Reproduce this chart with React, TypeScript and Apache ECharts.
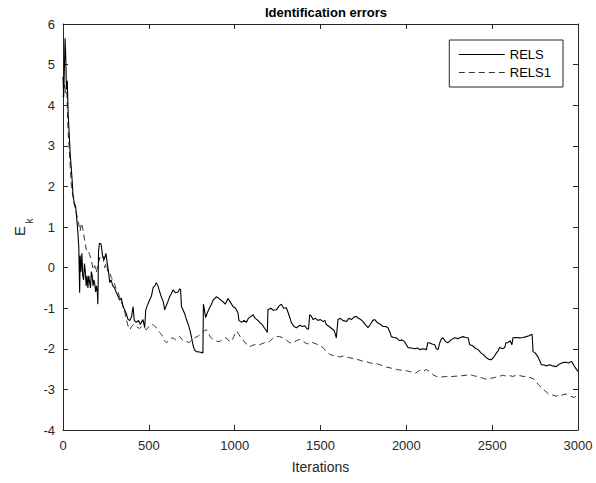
import React, { useEffect, useRef } from "react";
import * as echarts from "echarts";

const xTicks = [0, 500, 1000, 1500, 2000, 2500, 3000];
const yTicks = [-4, -3, -2, -1, 0, 1, 2, 3, 4, 5, 6];
const seriesNames = ["RELS", "RELS1"];

const relsIter = [0,4,8,12,16,20,25,30,36,42,49,54,58,65,74,80,87,92,97,100,105,110,115,120,125,130,135,140,145,150,155,160,165,170,175,180,185,190,195,200,203,207,212,222,230,240,250,258,265,272,280,290,300,311,320,330,340,350,360,370,379,390,400,408,415,427,440,450,466,476,482,490,505,515,525,535,544,553,563,575,585,592,600,610,621,630,641,655,670,680,685,690,700,710,719,730,740,748,757,765,777,795,815,818,822,831,842,854,865,875,893,905,920,932,945,961,975,990,1005,1019,1025,1040,1055,1068,1080,1095,1107,1120,1135,1146,1160,1175,1185,1190,1194,1210,1225,1243,1258,1272,1285,1301,1315,1330,1345,1360,1380,1395,1408,1420,1430,1437,1447,1456,1470,1485,1500,1515,1525,1534,1550,1565,1580,1592,1602,1615,1630,1651,1665,1680,1695,1709,1720,1735,1748,1760,1777,1790,1805,1816,1830,1850,1864,1880,1893,1905,1913,1925,1942,1960,1975,1990,2000,2010,2030,2050,2065,2078,2100,2117,2125,2132,2150,2165,2175,2185,2195,2205,2214,2228,2243,2260,2282,2300,2315,2330,2345,2360,2369,2385,2400,2418,2435,2450,2466,2480,2495,2510,2525,2535,2544,2560,2573,2580,2592,2605,2615,2621,2640,2660,2680,2699,2715,2728,2733,2738,2750,2767,2778,2786,2800,2820,2835,2850,2874,2890,2913,2930,2945,2961,2970,2980,2990,3000];
const relsErr = [4.7,4.2,4.9,5.65,5.2,4.4,4.6,3.8,3.3,2.8,2.4,2.1,1.8,1.6,1.5,1.2,0.85,0.5,-0.62,0.3,-0.1,0.35,-0.2,-0.3,0.1,-0.1,-0.45,-0.2,-0.5,-0.2,-0.35,-0.5,-0.1,-0.2,-0.45,-0.3,-0.4,-0.6,-0.45,-0.6,-0.9,0.4,0.6,0.58,0.3,0.2,0.35,0.1,-0.1,-0.37,-0.3,-0.45,-0.5,-0.62,-0.7,-0.8,-0.75,-0.96,-1.05,-1.15,-1.28,-1.3,-1.2,-0.96,-1.3,-1.35,-1.3,-1.4,-1.28,-1.48,-1.04,-0.95,-0.79,-0.7,-0.49,-0.45,-0.37,-0.45,-0.59,-0.75,-0.85,-1.04,-0.95,-0.85,-0.72,-0.65,-0.55,-0.62,-0.6,-0.52,-0.55,-0.96,-1.05,-1.15,-1.28,-1.4,-1.55,-1.7,-1.9,-2.02,-2.07,-2.08,-2.1,-0.9,-1.0,-1.23,-1.1,-0.99,-0.9,-0.8,-0.72,-0.75,-0.8,-0.84,-0.9,-0.76,-0.85,-0.96,-1.0,-1.11,-1.3,-1.35,-1.3,-1.35,-1.25,-1.2,-1.16,-1.25,-1.3,-1.35,-1.4,-1.5,-1.55,-1.6,-1.04,-1.0,-1.05,-1.04,-0.95,-0.9,-1.0,-0.99,-1.15,-1.35,-1.45,-1.48,-1.42,-1.45,-1.43,-1.5,-1.52,-1.16,-1.2,-1.28,-1.25,-1.3,-1.28,-1.33,-1.3,-1.4,-1.45,-1.5,-1.55,-1.73,-1.28,-1.25,-1.3,-1.33,-1.25,-1.28,-1.22,-1.2,-1.25,-1.28,-1.33,-1.4,-1.48,-1.4,-1.3,-1.28,-1.35,-1.4,-1.45,-1.45,-1.48,-1.6,-1.7,-1.72,-1.73,-1.8,-1.78,-1.83,-1.9,-1.97,-1.98,-2.0,-1.98,-2.02,-2.0,-2.02,-1.85,-1.85,-1.88,-1.9,-2.0,-2.02,-1.85,-1.75,-1.73,-1.82,-1.85,-1.78,-1.73,-1.75,-1.72,-1.7,-1.72,-1.73,-1.9,-1.92,-1.98,-2.02,-2.1,-2.15,-2.22,-2.26,-2.27,-2.2,-2.1,-2.05,-1.97,-2.0,-1.97,-1.85,-1.85,-1.8,-1.9,-1.73,-1.72,-1.73,-1.72,-1.7,-1.68,-1.65,-1.65,-2.07,-2.1,-2.2,-2.3,-2.39,-2.4,-2.42,-2.39,-2.42,-2.44,-2.38,-2.34,-2.33,-2.35,-2.31,-2.36,-2.44,-2.5,-2.56];

const rels1Iter = [0,8,15,20,25,29,35,42,49,58,68,80,90,100,107,117,125,136,145,155,165,175,185,194,205,215,224,233,243,253,262,272,282,291,300,311,320,330,340,350,360,370,380,389,400,410,427,445,460,475,486,500,512,524,535,550,563,575,590,602,615,625,641,655,670,680,695,705,719,735,745,757,770,785,796,810,825,835,845,860,874,890,900,913,925,940,951,965,981,995,1005,1013,1025,1035,1048,1060,1075,1087,1100,1115,1130,1146,1160,1175,1190,1204,1220,1235,1243,1262,1282,1300,1320,1340,1360,1379,1395,1410,1425,1440,1456,1475,1495,1515,1530,1545,1553,1570,1590,1610,1630,1651,1670,1690,1710,1730,1748,1770,1790,1810,1830,1845,1865,1885,1905,1925,1942,1960,1980,2000,2020,2039,2055,2070,2085,2100,2117,2130,2145,2160,2175,2200,2230,2250,2272,2300,2330,2350,2369,2390,2410,2430,2450,2466,2485,2500,2520,2544,2560,2580,2600,2621,2640,2660,2680,2699,2715,2730,2745,2757,2770,2785,2800,2816,2830,2845,2860,2874,2890,2905,2918,2932,2950,2965,2980,2990,3000];
const rels1Err = [4.2,4.5,4.3,4.55,4.0,3.4,3.0,2.5,2.0,1.75,1.5,1.3,1.1,0.9,1.1,0.93,0.7,0.44,0.45,0.32,0.2,-0.05,0.05,-0.12,0.1,0.25,0.2,0.27,0.0,0.12,-0.12,-0.12,-0.25,-0.3,-0.4,-0.54,-0.6,-0.72,-0.85,-0.96,-1.1,-1.3,-1.45,-1.53,-1.45,-1.4,-1.45,-1.5,-1.45,-1.5,-1.53,-1.45,-1.42,-1.4,-1.45,-1.5,-1.6,-1.65,-1.8,-1.85,-1.8,-1.75,-1.73,-1.78,-1.72,-1.7,-1.78,-1.82,-1.82,-1.85,-1.8,-1.77,-1.72,-1.7,-1.65,-1.6,-1.55,-1.53,-1.6,-1.72,-1.77,-1.8,-1.82,-1.82,-1.78,-1.75,-1.73,-1.8,-1.82,-1.7,-1.6,-1.57,-1.65,-1.72,-1.77,-1.85,-1.9,-1.95,-1.92,-1.9,-1.88,-1.9,-1.87,-1.85,-1.85,-1.82,-1.75,-1.72,-1.7,-1.7,-1.73,-1.78,-1.85,-1.85,-1.8,-1.77,-1.8,-1.85,-1.88,-1.83,-1.85,-1.88,-1.92,-1.97,-2.05,-2.1,-2.14,-2.16,-2.17,-2.2,-2.18,-2.2,-2.22,-2.24,-2.26,-2.28,-2.31,-2.32,-2.35,-2.36,-2.37,-2.39,-2.42,-2.45,-2.47,-2.49,-2.51,-2.52,-2.53,-2.54,-2.56,-2.58,-2.6,-2.55,-2.52,-2.55,-2.51,-2.55,-2.6,-2.65,-2.68,-2.7,-2.68,-2.69,-2.68,-2.67,-2.66,-2.65,-2.63,-2.66,-2.68,-2.7,-2.73,-2.75,-2.73,-2.72,-2.7,-2.68,-2.65,-2.67,-2.66,-2.68,-2.65,-2.66,-2.68,-2.68,-2.7,-2.72,-2.75,-2.83,-2.88,-2.95,-3.0,-3.07,-3.12,-3.13,-3.15,-3.17,-3.13,-3.15,-3.12,-3.12,-3.16,-3.18,-3.2,-3.15,-3.12];

const FONT = "Liberation Sans, Arial, sans-serif";
const AX = "#262626";

export default function App() {
  const ref = useRef<HTMLDivElement>(null);
  useEffect(() => {
    if (!ref.current) return;
    const chart = echarts.init(ref.current, null, { renderer: "svg" });
    const zip = (a: number[], b: number[]) => a.map((v, i) => [v, b[i]]);
    const tickCommon = { show: true, inside: true, length: 5, lineStyle: { color: AX, width: 1 } };
    const lineCommon = { show: true, onZero: false, lineStyle: { color: AX, width: 1 } };
    chart.setOption({
      animation: false,
      backgroundColor: "#fff",
      textStyle: { fontFamily: FONT },
      title: {
        text: "Identification errors",
        left: 321,
        textAlign: "center",
        top: 1,
        textStyle: { fontSize: 13, fontWeight: "bold", color: "#000", fontFamily: FONT },
      },
      legend: {
        orient: "vertical",
        right: 33,
        top: 40,
        data: seriesNames,
        itemWidth: 46,
        itemHeight: 12,
        itemGap: 5,
        padding: [8, 12, 8, 9],
        borderColor: AX,
        borderWidth: 1,
        backgroundColor: "#fff",
        itemStyle: { opacity: 0 },
        lineStyle: { width: 1 },
        textStyle: { fontSize: 13, color: "#000", fontFamily: FONT },
      },
      grid: { left: 63, right: 18, top: 24, bottom: 53 },
      xAxis: [
        {
          type: "value", min: 0, max: 3000, interval: 500,
          name: "Iterations", nameLocation: "middle", nameGap: 30,
          nameTextStyle: { fontSize: 14, color: AX, fontFamily: FONT },
          axisLine: lineCommon,
          axisTick: tickCommon,
          axisLabel: { fontSize: 13, color: AX, margin: 9, fontFamily: FONT, formatter: (v: number) => (xTicks.includes(v) ? String(v) : "") },
          splitLine: { show: false },
        },
        {
          type: "value", min: 0, max: 3000, interval: 500, position: "top",
          axisLine: lineCommon,
          axisTick: tickCommon, axisLabel: { show: false }, splitLine: { show: false },
        },
      ],
      yAxis: [
        {
          type: "value", min: -4, max: 6, interval: 1,
          axisLine: lineCommon,
          axisTick: tickCommon,
          axisLabel: { fontSize: 13, color: AX, margin: 8, fontFamily: FONT, formatter: (v: number) => (yTicks.includes(v) ? String(v) : "") },
          splitLine: { show: false },
        },
        {
          type: "value", min: -4, max: 6, interval: 1, position: "right",
          axisLine: lineCommon,
          axisTick: tickCommon, axisLabel: { show: false }, splitLine: { show: false },
        },
      ],
      graphic: [
        { type: "text", x: 19, y: 231, rotation: Math.PI / 2, style: { text: "E", fill: AX, font: "15px " + FONT, align: "center", verticalAlign: "middle" } },
        { type: "text", x: 29, y: 221, rotation: Math.PI / 2, style: { text: "k", fill: AX, font: "10px " + FONT, align: "center", verticalAlign: "middle" } },
      ],
      series: [
        {
          name: seriesNames[0], type: "line", symbol: "none", data: zip(relsIter, relsErr),
          lineStyle: { color: "#000", width: 1.1 }, itemStyle: { color: "#000" }, z: 3,
        },
        {
          name: seriesNames[1], type: "line", symbol: "none", data: zip(rels1Iter, rels1Err),
          lineStyle: { color: "#333", width: 1, type: [6, 4] }, itemStyle: { color: "#333" }, z: 2,
        },
      ],
    });
    return () => chart.dispose();
  }, []);
  return <div ref={ref} style={{ width: 596, height: 483, position: "absolute", left: 0, top: 0 }} />;
}
